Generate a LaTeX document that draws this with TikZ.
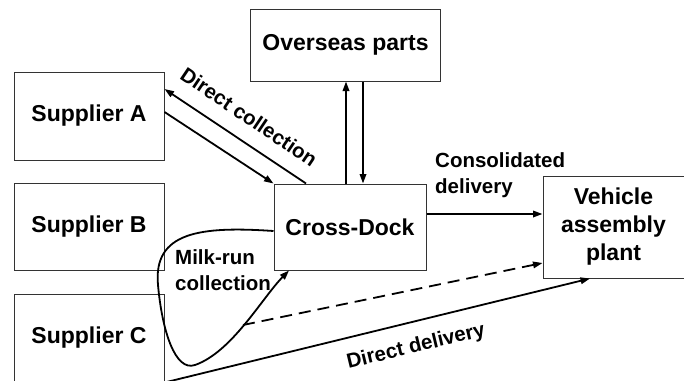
\documentclass[tikz,border=0pt]{standalone}
\usepackage{fontspec}
\setmainfont{Liberation Sans}
\usetikzlibrary{arrows.meta}
\begin{document}
\begin{tikzpicture}[x=1pt,y=-1pt,
  box/.style={draw=black!80,line width=1pt,inner sep=0pt,font=\bfseries\fontsize{23}{28}\selectfont,align=center},
  lbl/.style={font=\bfseries\fontsize{20.5}{26}\selectfont,inner sep=0pt},
  arr/.style={line width=1.8pt,-{Triangle[length=9.5pt,width=6.5pt]}}]
\useasboundingbox (0,0) rectangle (684,380);
\clip (0,0) rectangle (684,380);
\node[box,minimum width=150pt,minimum height=88pt] (sa) at (89,116) {Supplier A};
\node[box,minimum width=150pt,minimum height=87pt] (sb) at (89,226.5) {Supplier B};
\node[box,minimum width=150pt,minimum height=88pt] (sc) at (89,338) {Supplier C};
\node[box,minimum width=190pt,minimum height=72pt] (ov) at (345.5,45) {Overseas parts};
\node[box,minimum width=152pt,minimum height=86pt] (cd) at (350,227) {Cross-Dock};
\node[box,minimum width=141pt,minimum height=102pt] (vp) at (613.5,227) {Vehicle\\assembly\\plant};
% direct collection
\coordinate (sa1) at (sa.east |- 0,112);
\coordinate (sa2) at (sa.east |- 0,89);
\coordinate (cd2) at (306,0 |- cd.north);
\draw[arr] (sa1) -- (cd.north west);
\draw[arr] (cd2) -- (sa2);
\node[lbl,rotate=-34] at (249,117) {Direct collection};
% overseas
\draw[arr] (cd.north -| 346,0) -- (ov.south -| 346,0);
\draw[arr] (ov.south -| 363,0) -- (cd.north -| 363,0);
% consolidated
\draw[arr] (cd.east |- 0,214) -- (vp.west |- 0,214);
\node[lbl,anchor=west,align=left] at (435,175) {Consolidated\\delivery};
% milk run
\coordinate (m1) at (cd.west |- 0,231);
\coordinate (m2) at (289,0 |- cd.south);
\draw[arr] (m1) .. controls (200,226) and (153,232) .. (158,285)
  .. controls (162,330) and (175,372) .. (195,365)
  .. controls (232,352) and (262,298) .. (m2);
\node[lbl,anchor=west,align=left] at (175,270) {Milk-run\\collection};
% dashed
\coordinate (d1) at (243,325);
\draw[arr,dashed,dash pattern=on 12pt off 7pt] (d1) -- (vp.west |- 0,263);
% direct delivery
\coordinate (dd) at (590,0 |- vp.south);
\draw[arr] (sc.south east) -- (dd);
\node[lbl,rotate=13.5] at (416,347) {Direct delivery};
\end{tikzpicture}
\end{document}
